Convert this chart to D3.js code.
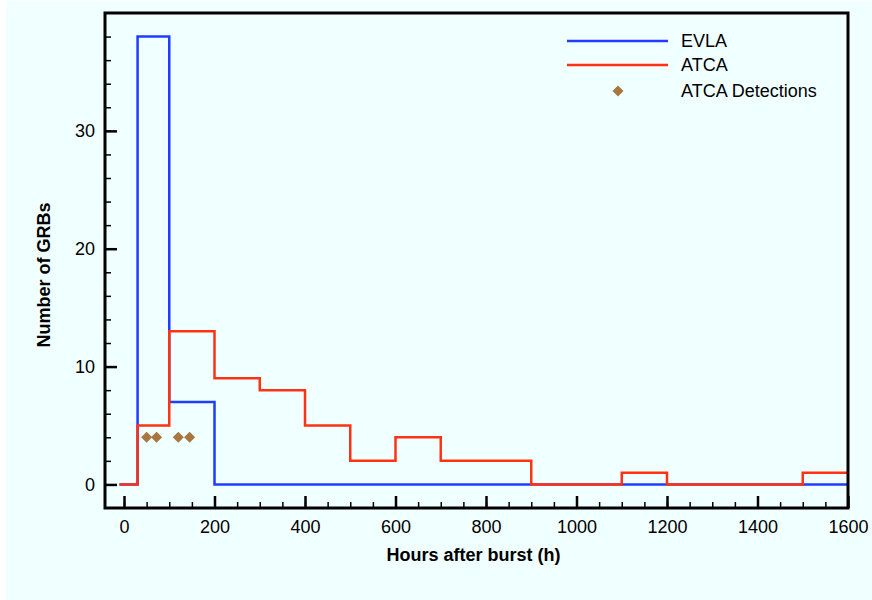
<!DOCTYPE html>
<html>
<head>
<meta charset="utf-8">
<script src="https://cdn.jsdelivr.net/npm/d3@7"></script>
<style>
  body { margin: 0; background: #fff; }
  text { font-family: "Liberation Sans", Arial, Helvetica, sans-serif; }
</style>
</head>
<body>
<svg width="872" height="600"></svg>
<script>
// DATA
const binEdges = [-10, 30, 100, 200, 300, 400, 500, 600, 700, 800, 900, 1000, 1100, 1200, 1300, 1400, 1500, 1600];
const evlaCounts = [0, 38, 7, 0, 0, 0, 0, 0, 0, 0, 0, 0, 0, 0, 0, 0, 0];
const atcaCounts = [0, 5, 13, 9, 8, 5, 2, 4, 2, 2, 0, 0, 1, 0, 0, 0, 1];
const detectHours = [50, 72, 120, 145];
const detectCounts = [4, 4, 4, 4];
const xTicks = [0, 200, 400, 600, 800, 1000, 1200, 1400, 1600];
const yTicks = [0, 10, 20, 30];
const legendNames = ["EVLA", "ATCA", "ATCA Detections"];

const svg = d3.select("svg");
const width = +svg.attr("width");
const height = +svg.attr("height");
const margin = { top: 13, left: 105, right: 24, bottom: 92 };
const innerWidth = width - margin.left - margin.right;
const innerHeight = height - margin.top - margin.bottom;

const blue = "#1f3cff";
const red = "#ff3214";
const brown = "#a8773f";
const fontSize = 18;

// background
svg.append("rect")
  .attr("x", 6).attr("y", 1)
  .attr("width", width - 6).attr("height", height - 1)
  .attr("fill", "#f0ffff");

// SCALES
const x = d3.scaleLinear().domain([-42, 1600]).range([0, innerWidth]);
const y = d3.scaleLinear().domain([-2, 40]).range([innerHeight, 0]);

const g = svg.append("g").attr("transform", `translate(${margin.left},${margin.top})`);

// minor ticks
const xMinor = d3.range(0, 1601, 50);
const yMinor = d3.range(0, 40, 2);

g.append("g")
  .attr("transform", `translate(0,${innerHeight})`)
  .call(d3.axisBottom(x).tickValues(xMinor).tickFormat("").tickSize(-6).tickSizeOuter(0))
  .call(a => a.select(".domain").remove())
  .call(a => a.selectAll("line").attr("stroke-width", 1.5));

g.append("g")
  .call(d3.axisLeft(y).tickValues(yMinor).tickFormat("").tickSize(-6).tickSizeOuter(0))
  .call(a => a.select(".domain").remove())
  .call(a => a.selectAll("line").attr("stroke-width", 1.5));

// major ticks
g.append("g")
  .attr("transform", `translate(0,${innerHeight})`)
  .call(d3.axisBottom(x).tickValues(xTicks).tickFormat(d3.format("d")).tickSize(-12).tickPadding(12).tickSizeOuter(0))
  .call(a => a.select(".domain").remove())
  .call(a => a.selectAll("line").attr("stroke-width", 2.5))
  .call(a => a.selectAll("text").attr("font-size", fontSize).attr("fill", "#000")
    .style("font-family", "'Liberation Sans', Arial, sans-serif"));

g.append("g")
  .call(d3.axisLeft(y).tickValues(yTicks).tickFormat(d3.format("d")).tickSize(-12).tickPadding(10).tickSizeOuter(0))
  .call(a => a.select(".domain").remove())
  .call(a => a.selectAll("line").attr("stroke-width", 2.5))
  .call(a => a.selectAll("text").attr("font-size", fontSize).attr("fill", "#000")
    .style("font-family", "'Liberation Sans', Arial, sans-serif"));

// step lines
const stepLine = d3.line()
  .x(d => x(d[0]))
  .y(d => y(d[1]))
  .curve(d3.curveStepAfter);

function stepPoints(counts) {
  const pts = counts.map((c, i) => [binEdges[i], c]);
  pts.push([binEdges[binEdges.length - 1], counts[counts.length - 1]]);
  return pts;
}

g.append("path")
  .attr("d", stepLine(stepPoints(evlaCounts)))
  .attr("fill", "none")
  .attr("stroke", blue)
  .attr("stroke-width", 2.5);

g.append("path")
  .attr("d", stepLine(stepPoints(atcaCounts)))
  .attr("fill", "none")
  .attr("stroke", red)
  .attr("stroke-width", 2.5);

// detections
const diamond = d3.symbol().type(d3.symbolDiamond2).size(78);
g.selectAll(".det")
  .data(detectHours)
  .enter()
  .append("path")
  .attr("class", "det")
  .attr("transform", (d, i) => `translate(${x(d)},${y(detectCounts[i])})`)
  .attr("d", diamond)
  .attr("fill", brown);

// frame
g.append("rect")
  .attr("width", innerWidth)
  .attr("height", innerHeight)
  .attr("fill", "none")
  .attr("stroke", "#000")
  .attr("stroke-width", 3);

// axis titles
svg.append("text")
  .attr("x", margin.left + innerWidth / 2 - 3)
  .attr("y", 561)
  .attr("text-anchor", "middle")
  .attr("font-size", fontSize)
  .attr("font-weight", "bold")
  .text("Hours after burst (h)");

svg.append("text")
  .attr("transform", "translate(50,275) rotate(-90)")
  .attr("text-anchor", "middle")
  .attr("font-size", fontSize)
  .attr("font-weight", "bold")
  .text("Number of GRBs");

// legend
const legend = svg.append("g");
const legendY = [41, 65, 91];
const legendColors = [blue, red, brown];

legendNames.forEach((name, i) => {
  if (i < 2) {
    legend.append("line")
      .attr("x1", 567).attr("x2", 668)
      .attr("y1", legendY[i]).attr("y2", legendY[i])
      .attr("stroke", legendColors[i])
      .attr("stroke-width", 2.5);
  } else {
    legend.append("path")
      .attr("transform", `translate(618,${legendY[i]})`)
      .attr("d", diamond)
      .attr("fill", legendColors[i]);
  }
  legend.append("text")
    .attr("x", 681)
    .attr("y", legendY[i])
    .attr("dy", "0.35em")
    .attr("font-size", fontSize)
    .text(name);
});
</script>
</body>
</html>
